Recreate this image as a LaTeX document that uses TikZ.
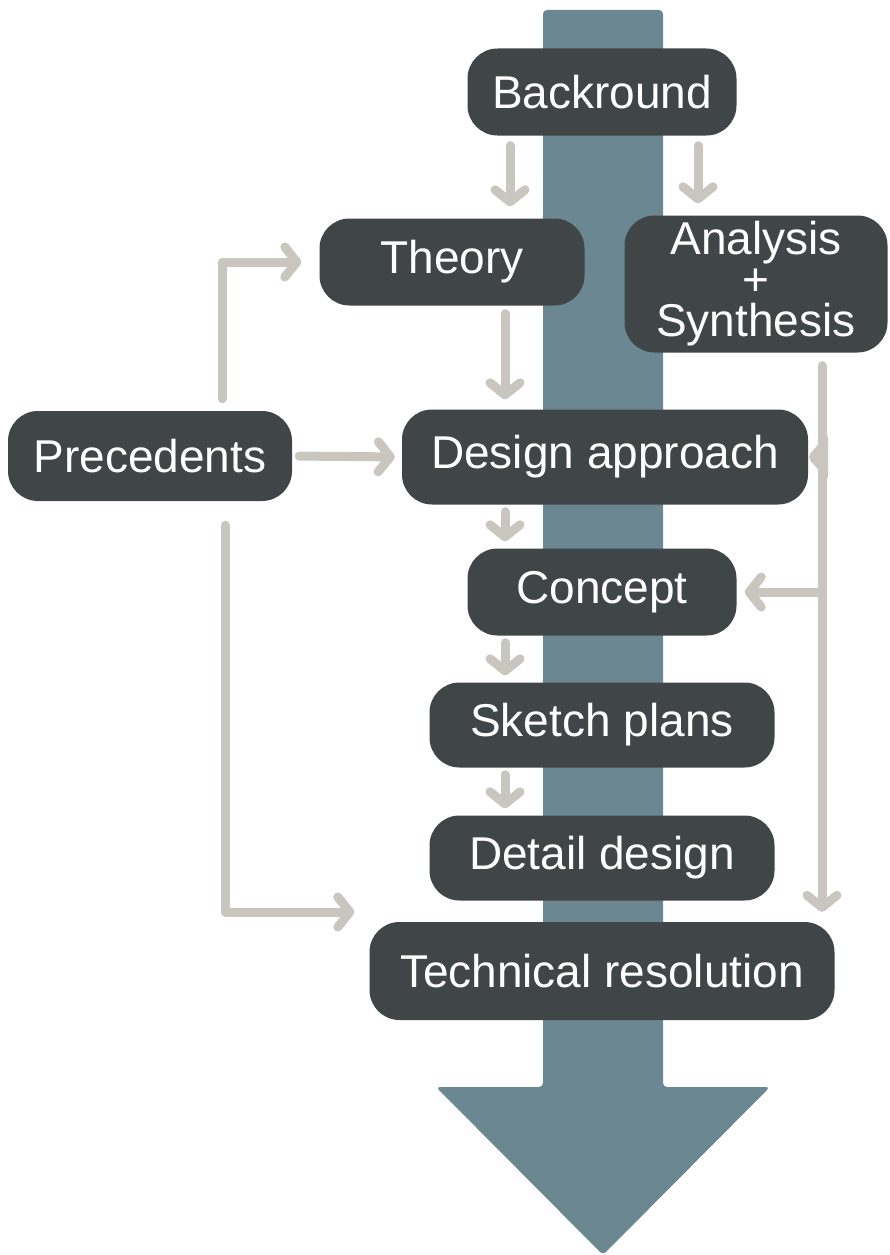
\documentclass[tikz,border=0pt]{standalone}
\usepackage{fontspec}
\setmainfont{Liberation Sans}
\usetikzlibrary{arrows.meta}
\definecolor{boxgrey}{HTML}{404547}
\definecolor{linkgrey}{HTML}{C9C6C0}
\definecolor{flowblue}{HTML}{6B8892}
\begin{document}
\begin{tikzpicture}[x=1pt,y=-1pt,line join=round,line cap=round,
 >={Straight Barb[length=12pt,width=30pt,round]},
 box/.style={fill=boxgrey,text=white,rounded corners=30pt,inner sep=0pt,align=center,
 font=\fontsize{46}{41}\selectfont},
 link/.style={draw=linkgrey,line width=9pt,->}]
 \useasboundingbox (0,0) rectangle (890,1255);
 % big arrow in the back
 \fill[flowblue,rounded corners=4pt] (543,1087) -- (543,10) -- (663,10) -- (663,1087)
 -- (770,1087) -- (603,1255) -- (436,1087) -- cycle;
 % steps
 \node[box,minimum width=269pt,minimum height=87pt] (bg) at (602,92) {Backround};
 \node[box,minimum width=265pt,minimum height=87pt] (th) at (452,262) {Theory};
 \node[box,minimum width=263pt,minimum height=137pt] (an) at (756,284) {Analysis\\+\\Synthesis};
 \node[box,minimum width=284pt,minimum height=90pt] (pr) at (150,456) {Precedents};
 \node[box,minimum width=406pt,minimum height=95pt] (da) at (605,457) {Design approach};
 \node[box,minimum width=269pt,minimum height=87pt] (cc) at (602,592) {Concept};
 \node[box,minimum width=345pt,minimum height=85pt] (sk) at (602,725) {Sketch plans};
 \node[box,minimum width=345pt,minimum height=85pt] (dd) at (602,858) {Detail design};
 \node[box,minimum width=465pt,minimum height=98pt] (tr) at (602,971) {Technical resolution};
 % links
 \draw[link,shorten <=10pt,shorten >=12pt] ([xshift=-92pt]bg.south) -- ([xshift=58pt]th.north);
 \draw[link,shorten <=10pt,shorten >=12pt] ([xshift=96pt]bg.south) -- ([xshift=-58pt]an.north);
 \draw[link,shorten <=8pt,shorten >=10pt] ([xshift=53pt]th.south) -- ([xshift=-100pt]da.north);
 \draw[link,shorten <=7pt,shorten >=7pt] ([xshift=-100pt]da.south) -- ([xshift=-97pt]cc.north);
 \draw[link,shorten <=7pt,shorten >=7pt] ([xshift=-97pt]cc.south) -- ([xshift=-97pt]sk.north);
 \draw[link,shorten <=7pt,shorten >=7pt] ([xshift=-97pt]sk.south) -- ([xshift=-97pt]dd.north);
 \draw[link,shorten <=12pt,shorten >=18pt] ([xshift=72pt]pr.north) |- (th.west);
 \draw[link,shorten <=7pt,shorten >=7pt] (pr.east) -- (da.west);
 \draw[link,shorten <=24pt,shorten >=15pt] ([xshift=75pt]pr.south) |- ([yshift=59pt]tr.west);
 \draw[link,shorten <=13pt,shorten >=10pt] ([xshift=66pt]an.south) -- ([xshift=220pt]tr.north);
 \draw[link,shorten >=8pt] ([xshift=85pt]cc.east) -- (cc.east);
 \fill[linkgrey,rounded corners=5pt] ([xshift=-1pt]da.east) -- ([xshift=20pt,yshift=24pt]da.east)
 -- ([xshift=20pt,yshift=-24pt]da.east) -- cycle;
\end{tikzpicture}
\end{document}
